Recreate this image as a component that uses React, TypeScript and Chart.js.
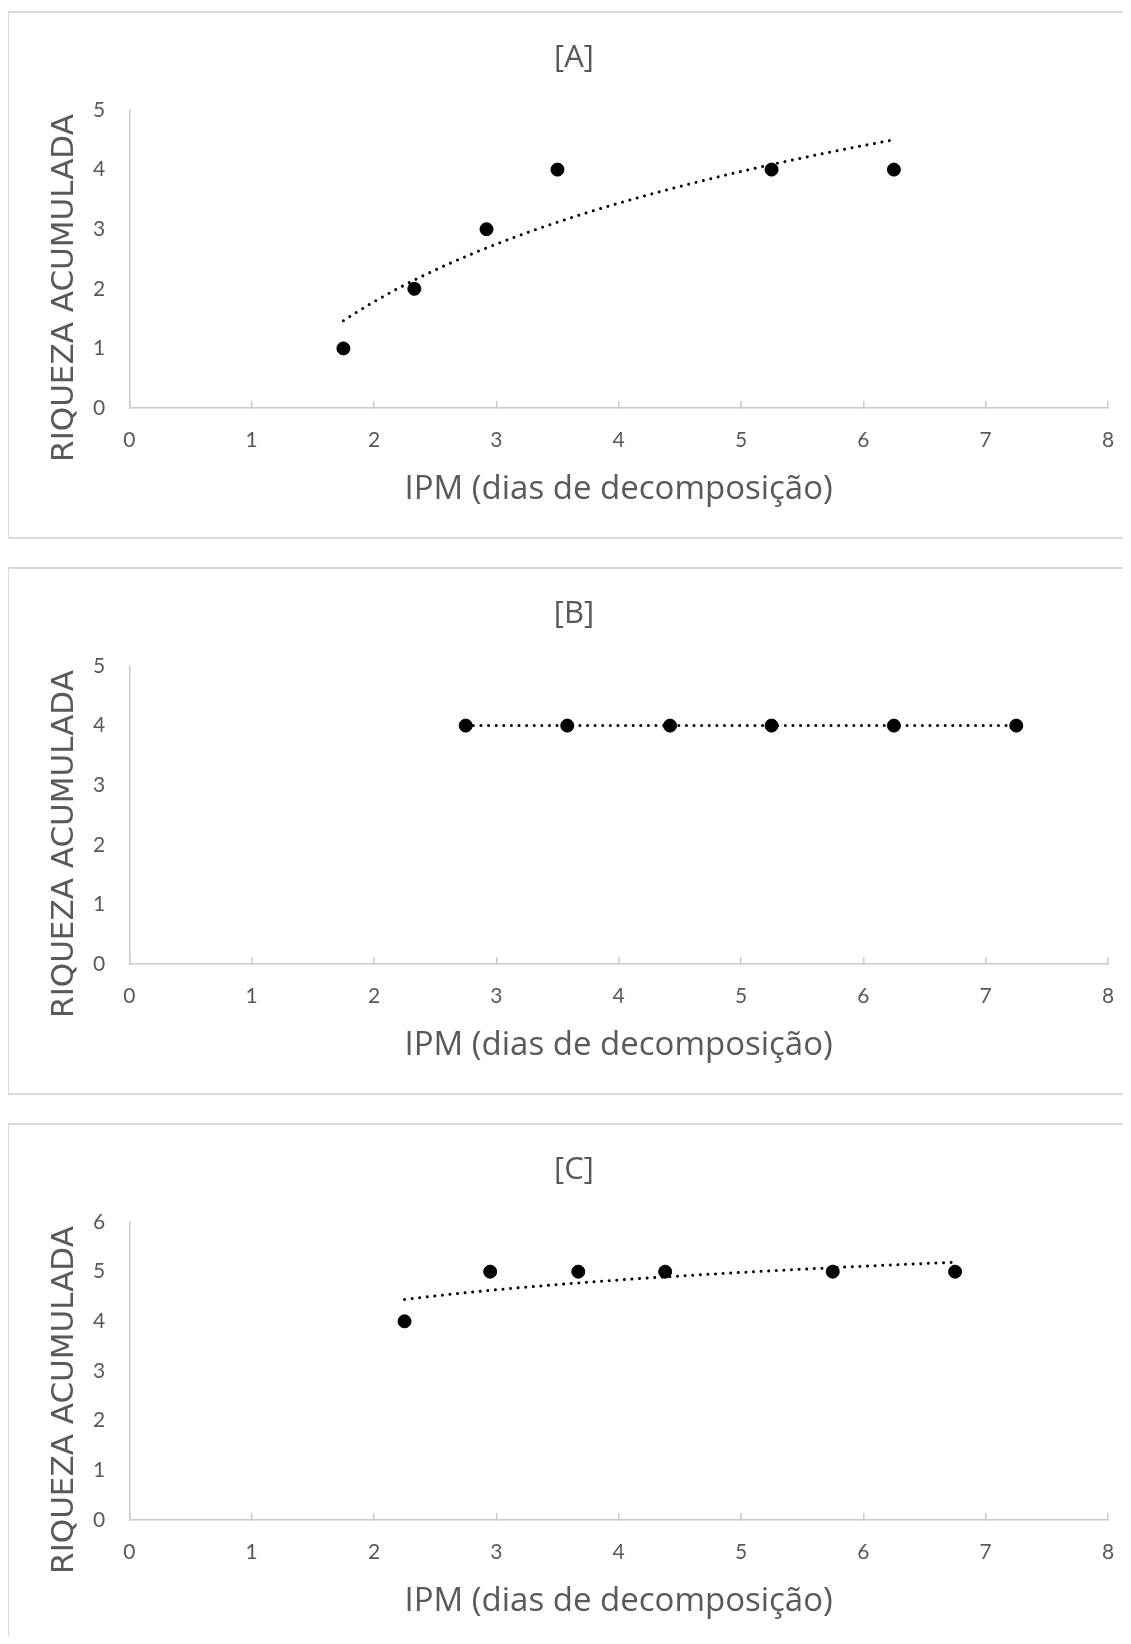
import React, { useEffect, useRef } from "react";
import { Chart, registerables } from "chart.js";

Chart.register(...registerables);

// ---------- data ----------
const panelTitles = ["[A]", "[B]", "[C]"];
const xAxisTitle = "IPM (dias de decomposição)";
const yAxisTitle = "RIQUEZA ACUMULADA";
const xMin = 0;
const xMax = 8;

const xA = [1.75, 2.33, 2.92, 3.5, 5.25, 6.25];
const yA = [1, 2, 3, 4, 4, 4];
const yMaxA = 5;

const xB = [2.75, 3.58, 4.42, 5.25, 6.25, 7.25];
const yB = [4, 4, 4, 4, 4, 4];
const yMaxB = 5;

const xC = [2.25, 2.95, 3.67, 4.38, 5.75, 6.75];
const yC = [4, 5, 5, 5, 5, 5];
const yMaxC = 6;

// ---------- logarithmic trendline (least squares y = a + b ln x) ----------
function logTrend(xs: number[], ys: number[]) {
  const lx = xs.map((v) => Math.log(v));
  const n = xs.length;
  const mx = lx.reduce((s, v) => s + v, 0) / n;
  const my = ys.reduce((s, v) => s + v, 0) / n;
  let sxy = 0;
  let sxx = 0;
  for (let i = 0; i < n; i++) {
    sxy += (lx[i] - mx) * (ys[i] - my);
    sxx += (lx[i] - mx) * (lx[i] - mx);
  }
  const b = sxx === 0 ? 0 : sxy / sxx;
  const a = my - b * mx;
  const x0 = Math.min(...xs);
  const x1 = Math.max(...xs);
  const steps = 80;
  const pts: { x: number; y: number }[] = [];
  for (let i = 0; i <= steps; i++) {
    const x = x0 + ((x1 - x0) * i) / steps;
    pts.push({ x, y: a + b * Math.log(x) });
  }
  return pts;
}

const GRAY_TEXT = "#595959";
const AXIS_COLOR = "#c9c9c9";

const yTitlePlugin = {
  id: "yTitleCustom",
  afterDraw(chart: any, _args: any, opts: any) {
    const ctx = chart.ctx;
    ctx.save();
    ctx.translate(opts.x, opts.y);
    ctx.rotate(-Math.PI / 2);
    ctx.font = opts.font;
    ctx.fillStyle = opts.color;
    ctx.textAlign = "center";
    ctx.textBaseline = "middle";
    ctx.fillText(opts.text, 0, 0);
    ctx.restore();
  },
};

function Panel(props: { title: string; xs: number[]; ys: number[]; yMax: number; top: number }) {
  const ref = useRef<HTMLCanvasElement | null>(null);
  useEffect(() => {
    if (!ref.current) return;
    const points = props.xs.map((x, i) => ({ x, y: props.ys[i] }));
    const trend = logTrend(props.xs, props.ys);
    const chart = new Chart(ref.current, {
      type: "scatter",
      data: {
        datasets: [
          {
            data: points,
            backgroundColor: "#000",
            borderColor: "#000",
            pointRadius: 6.5,
            pointHoverRadius: 6.5,
            showLine: false,
          },
          {
            data: trend,
            showLine: true,
            borderColor: "#000",
            borderWidth: 3,
            borderDash: [0.01, 7.6],
            borderCapStyle: "round",
            pointRadius: 0,
            pointHoverRadius: 0,
            fill: false,
            tension: 0,
          },
        ],
      } as any,
      options: {
        responsive: false,
        animation: false,
        events: [],
        layout: { padding: { left: 31, right: 21, top: 0, bottom: 0 } },
        plugins: {
          legend: { display: false },
          tooltip: { enabled: false },
          title: {
            display: true,
            text: props.title,
            color: GRAY_TEXT,
            font: { family: "'Open Sans'", size: 31, weight: "normal" },
            padding: { top: 27, bottom: 32.8 },
          },
          yTitleCustom: {
            text: yAxisTitle,
            x: 56.3,
            y: 275,
            font: "31px 'DejaVu Sans'",
            color: GRAY_TEXT,
          },
        } as any,
        scales: {
          x: {
            type: "linear",
            min: xMin,
            max: xMax,
            ticks: {
              stepSize: 1,
              color: GRAY_TEXT,
              font: { family: "Lato", size: 21 },
              padding: 26.5,
              maxRotation: 0,
            },
            grid: {
              drawOnChartArea: false,
              drawTicks: true,
              tickLength: -7,
              color: AXIS_COLOR,
              lineWidth: 1.5,
            },
            border: { display: true, color: AXIS_COLOR, width: 1.5 },
            title: {
              display: true,
              text: xAxisTitle,
              color: GRAY_TEXT,
              font: { family: "'Open Sans'", size: 33 },
              padding: { top: 0, bottom: 27.5 },
            },
            afterFit(s: any) {
              s.height = 129;
              s.paddingLeft = 0;
              s.paddingRight = 0;
            },
          },
          y: {
            type: "linear",
            min: 0,
            max: props.yMax,
            ticks: {
              stepSize: 1,
              color: GRAY_TEXT,
              font: { family: "Lato", size: 21 },
              padding: 24,
            },
            grid: { drawOnChartArea: false, drawTicks: false, display: false },
            border: { display: true, color: AXIS_COLOR, width: 1.5 },
            afterFit(s: any) {
              s.width = 89.3;
              s.paddingTop = 0;
              s.paddingBottom = 0;
            },
          },
        },
      } as any,
      plugins: [yTitlePlugin],
    });
    return () => chart.destroy();
  }, []);
  return (
    <div
      style={{
        position: "absolute",
        left: -1,
        top: props.top,
        width: 1126,
        height: 528,
        boxSizing: "border-box",
        border: "2px solid #d9d9d9",
        background: "#fff",
      }}
    >
      <canvas ref={ref} width={1120} height={524} style={{ display: "block" }} />
    </div>
  );
}

export default function App() {
  return (
    <div style={{ position: "relative", width: 1123, height: 1628, overflow: "hidden", background: "#fff" }}>
      <Panel title={panelTitles[0]} xs={xA} ys={yA} yMax={yMaxA} top={3} />
      <Panel title={panelTitles[1]} xs={xB} ys={yB} yMax={yMaxB} top={559} />
      <Panel title={panelTitles[2]} xs={xC} ys={yC} yMax={yMaxC} top={1115} />
    </div>
  );
}
